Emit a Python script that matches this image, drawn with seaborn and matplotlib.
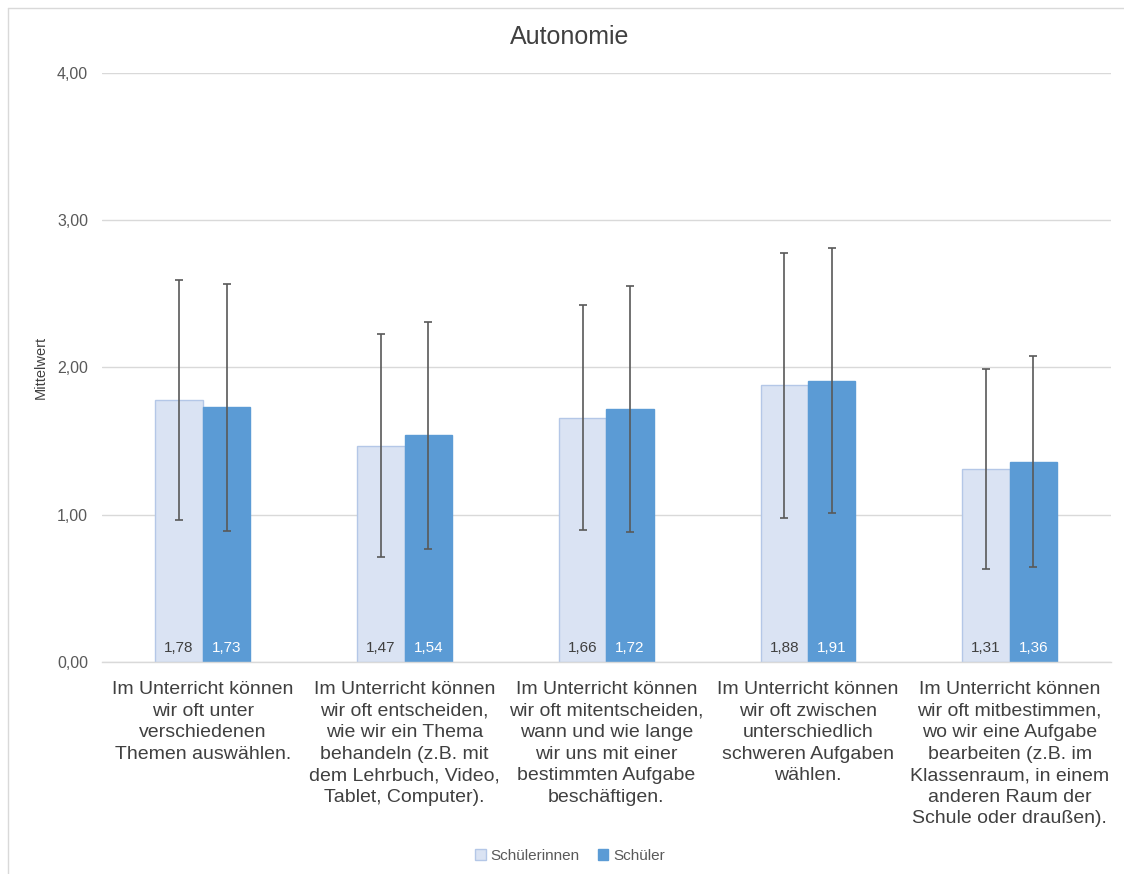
import matplotlib
matplotlib.use("Agg")
import matplotlib.pyplot as plt
from matplotlib.lines import Line2D
from matplotlib.patches import Patch
import numpy as np
import pandas as pd
import seaborn as sns

# Survey items (category axis)
items = [
    "Im Unterricht können\nwir oft unter\nverschiedenen\nThemen auswählen.",
    "Im Unterricht können\nwir oft entscheiden,\nwie wir ein Thema\nbehandeln (z.B. mit\ndem Lehrbuch, Video,\nTablet, Computer).",
    "Im Unterricht können\nwir oft mitentscheiden,\nwann und wie lange\nwir uns mit einer\nbestimmten Aufgabe\nbeschäftigen.",
    "Im Unterricht können\nwir oft zwischen\nunterschiedlich\nschweren Aufgaben\nwählen.",
    "Im Unterricht können\nwir oft mitbestimmen,\nwo wir eine Aufgabe\nbearbeiten (z.B. im\nKlassenraum, in einem\nanderen Raum der\nSchule oder draußen).",
]
groups = ["Schülerinnen", "Schüler"]

# Means and standard deviations per group
mean_girls = [1.78, 1.47, 1.66, 1.88, 1.31]
mean_boys = [1.73, 1.54, 1.72, 1.91, 1.36]
sd_girls = [0.815, 0.755, 0.765, 0.90, 0.68]
sd_boys = [0.84, 0.77, 0.835, 0.90, 0.715]

y_ticks = [0, 1, 2, 3, 4]

df = pd.DataFrame({
    "item": items * 2,
    "group": [groups[0]] * len(items) + [groups[1]] * len(items),
    "mean": mean_girls + mean_boys,
    "sd": sd_girls + sd_boys,
})

sns.set_theme(style="white")
plt.rcParams["font.family"] = ["Liberation Sans", "DejaVu Sans"]

fill_colors = {"Schülerinnen": "#DAE3F3", "Schüler": "#5B9BD5"}
edge_colors = {"Schülerinnen": "#B4C7E7", "Schüler": "#5B9BD5"}
text_colors = {"Schülerinnen": "#404040", "Schüler": "#FFFFFF"}

fig = plt.figure(figsize=(11.24, 8.74), dpi=100)
ax = fig.add_axes([0.0907, 0.2426, 0.8973, 0.6739])

sns.barplot(data=df, x="item", y="mean", hue="group", order=items,
            hue_order=groups, palette=fill_colors, saturation=1,
            errorbar=None, width=0.47, gap=0, ax=ax, legend=False)

for grp, container in zip(groups, ax.containers):
    sub = df[df["group"] == grp].set_index("item").loc[items]
    xs = []
    for bar, m in zip(container, sub["mean"]):
        bar.set_edgecolor(edge_colors[grp])
        bar.set_linewidth(1.0)
        cx = bar.get_x() + bar.get_width() / 2
        xs.append(cx)
        ax.annotate(f"{m:.2f}".replace(".", ","), xy=(cx, 0), xytext=(0, 5),
                    textcoords="offset points", ha="center", va="bottom",
                    fontsize=11, color=text_colors[grp], zorder=5)
    ax.errorbar(xs, sub["mean"].values, yerr=sub["sd"].values, fmt="none",
                ecolor="#595959", elinewidth=1.2, capsize=3, capthick=1.2,
                zorder=4)

ax.set_ylim(0, 4)
ax.set_xlim(-0.5, len(items) - 0.5)
ax.set_yticks(y_ticks)
ax.set_yticklabels([f"{v:.2f}".replace(".", ",") for v in y_ticks],
                   fontsize=11.5, color="#595959")
ax.tick_params(axis="y", length=0, pad=10)
ax.tick_params(axis="x", length=0, pad=14)
for lbl in ax.get_xticklabels():
    lbl.set_fontsize(14)
    lbl.set_color("#404040")
    lbl.set_linespacing(1.34)
ax.yaxis.grid(True, color="#D9D9D9", linewidth=1.0)
ax.set_axisbelow(True)
for s in ["top", "right", "left"]:
    ax.spines[s].set_visible(False)
ax.spines["bottom"].set_color("#D9D9D9")
ax.spines["bottom"].set_linewidth(1.0)
ax.set_xlabel("")
ax.set_ylabel("Mittelwert", fontsize=10.5, color="#404040")
ax.yaxis.set_label_coords(-0.0535, 0.5)

fig.text(0.507, 0.958, "Autonomie", ha="center", va="center",
         fontsize=18, color="#404040")

handles = [Patch(facecolor=fill_colors[g], edgecolor=edge_colors[g], label=g)
           for g in groups]
fig.legend(handles=handles, loc="center", bbox_to_anchor=(0.507, 0.021),
           ncol=2, frameon=False, fontsize=11, handlelength=0.7,
           handleheight=0.7, handletextpad=0.3, columnspacing=1.2,
           labelcolor="#595959")

# Chart-area frame: left and top edges
x0, y1 = 0.0075, 0.991
fig.add_artist(Line2D([x0, x0], [0, y1], transform=fig.transFigure,
                      color="#D9D9D9", linewidth=1.0))
fig.add_artist(Line2D([x0, 1], [y1, y1], transform=fig.transFigure,
                      color="#D9D9D9", linewidth=1.0))

fig.savefig("out.png", dpi=100, facecolor="white")
